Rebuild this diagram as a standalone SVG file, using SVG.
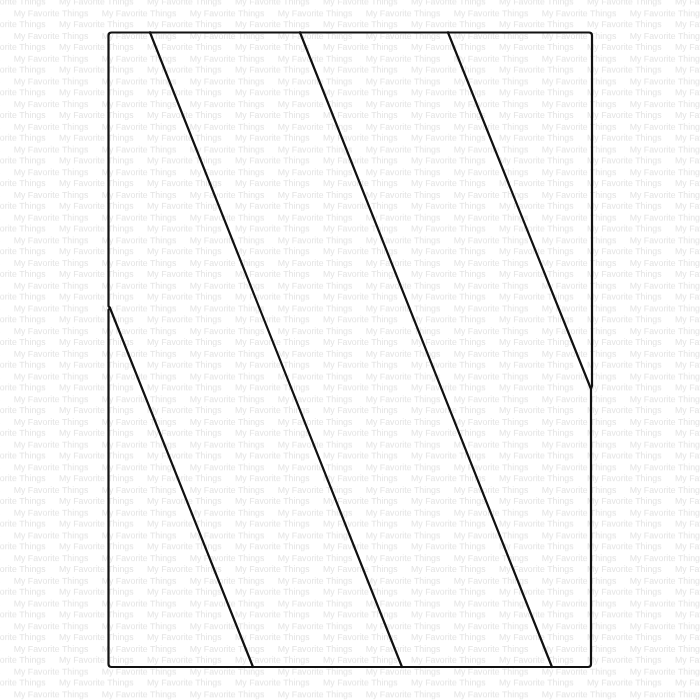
<svg xmlns="http://www.w3.org/2000/svg" width="700" height="700" viewBox="0 0 700 700">
  <defs>
    <style>
      .wm { font-family: "Liberation Sans", Arial, sans-serif; font-size: 8.8px; fill: #e3e3e3; }
      .cut { fill: none; stroke: #111111; stroke-width: 2.2; stroke-linecap: round; stroke-linejoin: round; }
    </style>
    <pattern id="watermark" patternUnits="userSpaceOnUse" x="0" y="18.3" width="88" height="22.7">
      <text class="wm" x="59" y="9">My Favorite Things</text>
      <text class="wm" x="-29" y="9">My Favorite Things</text>
      <text class="wm" x="13.7" y="20.35">My Favorite Things</text>
      <text class="wm" x="-74.3" y="20.35">My Favorite Things</text>
    </pattern>
  </defs>
  <rect id="background" x="0" y="0" width="700" height="700" fill="#ffffff"/>
  <rect id="watermark-layer" x="0" y="0" width="700" height="700" fill="url(#watermark)"/>
  <g id="die">
    <path id="outline" class="cut" d="M108.5,306 L108.5,35.5 Q108.5,32.5 111.5,32.5 L589,32.5 Q592,32.5 592,35.5 L592,386 L591,389 L591,664 Q591,667 588,667 L111.5,667 Q108.5,667 108.5,664 L108.5,310 L110,308 Z"/>
    <line id="stripe-1" class="cut" x1="110" y1="308" x2="253" y2="667"/>
    <line id="stripe-2" class="cut" x1="150" y1="32.5" x2="402" y2="667"/>
    <line id="stripe-3" class="cut" x1="300" y1="32.5" x2="552" y2="667"/>
    <line id="stripe-4" class="cut" x1="448" y1="32.5" x2="591" y2="389"/>
  </g>
</svg>
